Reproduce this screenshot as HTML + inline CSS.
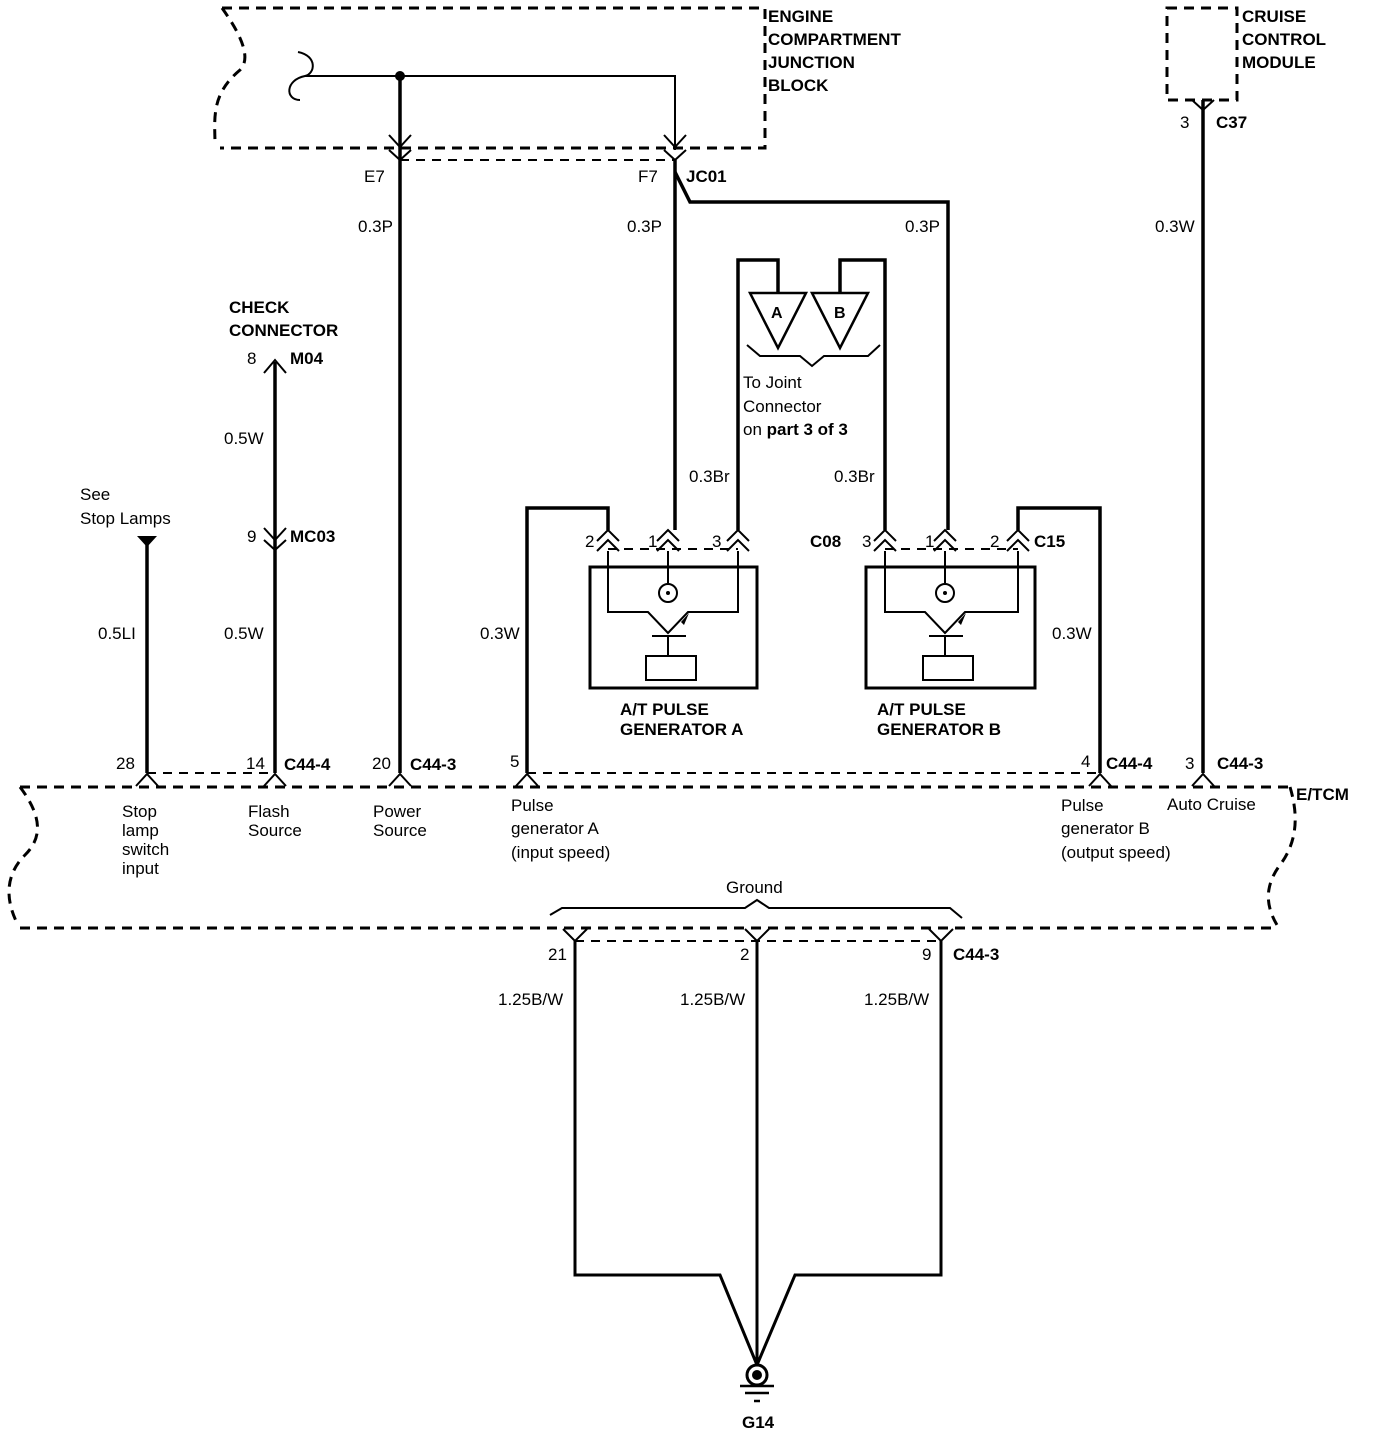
<!DOCTYPE html>
<html><head><meta charset="utf-8"><style>
html,body{margin:0;padding:0;background:#fff}
svg{display:block}
text{font-family:"Liberation Sans",sans-serif;font-size:17px;fill:#000}
.b{font-weight:bold}
</style></head><body>
<svg width="1376" height="1436" viewBox="0 0 1376 1436" xmlns="http://www.w3.org/2000/svg">
<g fill="none" stroke="#000">
<path d="M222 8 H765 V148 H220" stroke-width="3" stroke-dasharray="10,7"/>
<path d="M222 8 C245 40 250 60 240 70 C210 95 215 120 215 145" stroke-width="3" stroke-dasharray="10,7"/>
<path d="M298 52 C318 56 315 74 305 76 C285 80 285 100 300 100" stroke-width="2"/>
<path d="M305 76 H675 V150" stroke-width="2"/>
<path d="M1167 8 H1237 V100 H1167 Z" stroke-width="3" stroke-dasharray="10,7"/>
<path d="M20 787 H1290" stroke-width="3" stroke-dasharray="10,7"/>
<path d="M20 928 H1277" stroke-width="3" stroke-dasharray="10,7"/>
<path d="M20 787 C45 820 40 840 25 855 C5 875 5 900 18 925" stroke-width="3" stroke-dasharray="10,7"/>
<path d="M1290 787 C1300 820 1295 845 1280 865 C1265 885 1265 905 1277 925" stroke-width="3" stroke-dasharray="10,7"/>
<path d="M400 160 H675" stroke-width="2" stroke-dasharray="9,7"/>
<path d="M147 773 H275 M527 773 H1100" stroke-width="2" stroke-dasharray="9,7"/>
<path d="M608 549 H738 M885 549 H1018" stroke-width="2" stroke-dasharray="9,7"/>
<path d="M575 941 H941" stroke-width="2" stroke-dasharray="9,7"/>
<g stroke-width="3.5">
<path d="M400 76 V773"/>
<path d="M675 160 V530"/>
<path d="M675 172 L690 202 H948 V530"/>
<path d="M1203 100 V773"/>
<path d="M275 362 V773"/>
<path d="M147 545 V773"/>
<path d="M738 530 V260 H778 V293"/>
<path d="M840 293 V260 H885 V530"/>
<path d="M608 530 V508 H527 V773"/>
<path d="M1018 530 V508 H1100 V773"/>
<path d="M575 941 V1275 H720 L757 1365 M757 941 V1365 M941 941 V1275 H795 L757 1365" stroke-width="3"/>
</g>
<g stroke-width="2">
<path d="M389 135 L400 147 L411 135 M389 150 L400 160 L411 150"/>
<path d="M664 135 L675 147 L686 135 M664 150 L675 160 L686 150"/>
<path d="M1192 100 L1203 110 L1214 100"/>
<path d="M264 373 L275 360 L286 373"/>
<path d="M264 528 L275 540 L286 528 M264 540 L275 550 L286 540"/>
<path d="M136 786 L147 774 L158 786 M264 786 L275 774 L286 786 M389 786 L400 774 L411 786 M516 786 L527 774 L538 786 M1089 786 L1100 774 L1111 786 M1192 786 L1203 774 L1214 786"/>
<path d="M563 929 L575 941 L587 929 M745 929 L757 941 L769 929 M929 929 L941 941 L953 929"/>
<path d="M597 541 L608 530 L619 541 M597 551 L608 540 L619 551"/>
<path d="M657 541 L668 530 L679 541 M657 551 L668 540 L679 551"/>
<path d="M727 541 L738 530 L749 541 M727 551 L738 540 L749 551"/>
<path d="M874 541 L885 530 L896 541 M874 551 L885 540 L896 551"/>
<path d="M934 541 L945 530 L956 541 M934 551 L945 540 L956 551"/>
<path d="M1007 541 L1018 530 L1029 541 M1007 551 L1018 540 L1029 551"/>
<path d="M747 345 L760 356 H800 L812 366 L824 356 H868 L880 345"/>
<path d="M550 915 L562 908 H745 L757 900 L769 908 H950 L962 918"/>
</g>
<path d="M750 293 H806 L778 348 Z M812 293 H868 L840 348 Z" stroke-width="2.5"/>
<g stroke-width="3"><rect x="590" y="567" width="167" height="121"/><rect x="866" y="567" width="169" height="121"/></g>
<g stroke-width="2">
<path d="M608 551 V612 H648 L668 633 L688 612 H738 V551"/>
<path d="M668 551 V583"/><circle cx="668" cy="593" r="9"/>
<path d="M652 636 H686 M668 636 V656"/><rect x="646" y="656" width="50" height="24"/>
<path d="M885 551 V612 H925 L945 633 L965 612 H1018 V551"/>
<path d="M945 551 V583"/><circle cx="945" cy="593" r="9"/>
<path d="M929 636 H963 M945 636 V656"/><rect x="923" y="656" width="50" height="24"/>
</g>
<circle cx="757" cy="1375" r="10" stroke-width="3"/>
<path d="M740 1386 H774 M745 1393 H769 M754 1401 H760" stroke-width="2.5"/>
</g>
<circle cx="400" cy="76" r="5"/>
<circle cx="757" cy="1375" r="5"/>
<circle cx="668" cy="593" r="2"/><circle cx="945" cy="593" r="2"/>
<path d="M137 536 H157 L147 547 Z"/>
<path d="M681 622 L689 613 L684 625 Z M958 622 L966 613 L961 625 Z"/>
<text class="b" x="771" y="318" style="font-size:16px">A</text>
<text class="b" x="834" y="318" style="font-size:16px">B</text>
<text class="b" x="768" y="22">ENGINE</text>
<text class="b" x="768" y="45">COMPARTMENT</text>
<text class="b" x="768" y="68">JUNCTION</text>
<text class="b" x="768" y="91">BLOCK</text>
<text class="b" x="1242" y="22">CRUISE</text>
<text class="b" x="1242" y="45">CONTROL</text>
<text class="b" x="1242" y="68">MODULE</text>
<text x="1180" y="128">3</text><text class="b" x="1216" y="128">C37</text>
<text x="364" y="182">E7</text><text x="638" y="182">F7</text><text class="b" x="686" y="182">JC01</text>
<text x="358" y="232">0.3P</text><text x="627" y="232">0.3P</text><text x="905" y="232">0.3P</text><text x="1155" y="232">0.3W</text>
<text class="b" x="229" y="313">CHECK</text><text class="b" x="229" y="336">CONNECTOR</text>
<text x="247" y="364">8</text><text class="b" x="290" y="364">M04</text>
<text x="224" y="444">0.5W</text>
<text x="247" y="542">9</text><text class="b" x="290" y="542">MC03</text>
<text x="80" y="500">See</text><text x="80" y="524">Stop Lamps</text>
<text x="98" y="639">0.5LI</text><text x="224" y="639">0.5W</text><text x="480" y="639">0.3W</text><text x="1052" y="639">0.3W</text>
<text x="743" y="388">To Joint</text><text x="743" y="412">Connector</text><text x="743" y="435">on <tspan class="b">part 3 of 3</tspan></text>
<text x="689" y="482">0.3Br</text><text x="834" y="482">0.3Br</text>
<text x="585" y="547">2</text><text x="648" y="547">1</text><text x="712" y="547">3</text>
<text class="b" x="810" y="547">C08</text><text x="862" y="547">3</text><text x="925" y="547">1</text><text x="990" y="547">2</text><text class="b" x="1034" y="547">C15</text>
<text class="b" x="620" y="715">A/T PULSE</text><text class="b" x="620" y="735">GENERATOR A</text>
<text class="b" x="877" y="715">A/T PULSE</text><text class="b" x="877" y="735">GENERATOR B</text>
<text x="116" y="769">28</text><text x="246" y="769">14</text><text class="b" x="284" y="770">C44-4</text>
<text x="372" y="769">20</text><text class="b" x="410" y="770">C44-3</text><text x="510" y="767">5</text>
<text x="1081" y="767">4</text><text class="b" x="1106" y="769">C44-4</text>
<text x="1185" y="769">3</text><text class="b" x="1217" y="769">C44-3</text><text class="b" x="1296" y="800">E/TCM</text>
<text x="122" y="817">Stop</text><text x="122" y="836">lamp</text><text x="122" y="855">switch</text><text x="122" y="874">input</text>
<text x="248" y="817">Flash</text><text x="248" y="836">Source</text>
<text x="373" y="817">Power</text><text x="373" y="836">Source</text>
<text x="511" y="811">Pulse</text><text x="511" y="834">generator A</text><text x="511" y="858">(input speed)</text>
<text x="1061" y="811">Pulse</text><text x="1061" y="834">generator B</text><text x="1061" y="858">(output speed)</text>
<text x="1167" y="810">Auto Cruise</text>
<text x="726" y="893">Ground</text>
<text x="548" y="960">21</text><text x="740" y="960">2</text><text x="922" y="960">9</text><text class="b" x="953" y="960">C44-3</text>
<text x="498" y="1005">1.25B/W</text><text x="680" y="1005">1.25B/W</text><text x="864" y="1005">1.25B/W</text>
<text class="b" x="742" y="1428">G14</text>
</svg>
</body></html>
